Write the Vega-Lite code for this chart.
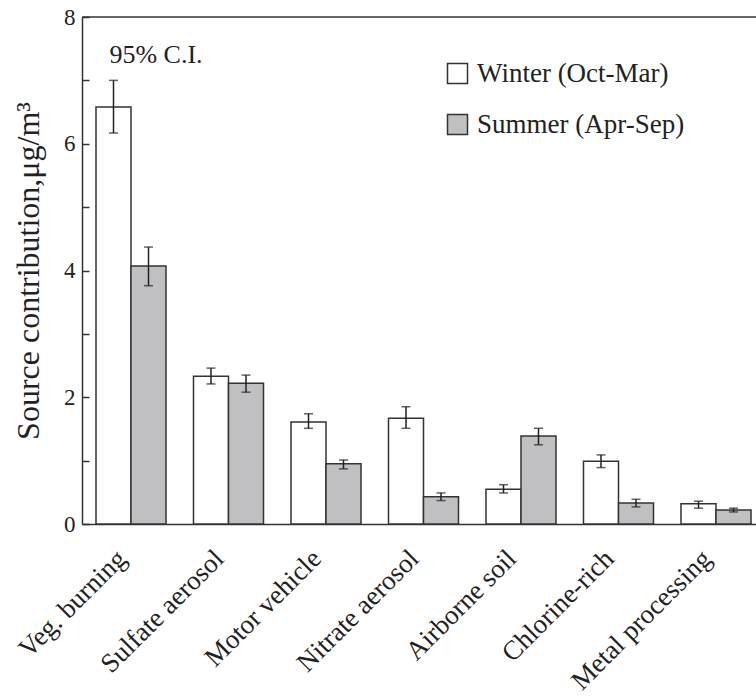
{
  "$schema": "https://vega.github.io/schema/vega-lite/v6.json",
  "width": 674,
  "height": 507,
  "autosize": {"type": "none"},
  "padding": {"left": 82, "top": 17, "right": 0, "bottom": 174},
  "background": "white",
  "config": {
    "view": {"stroke": null},
    "font": "Liberation Serif",
    "axis": {"labelFont": "Liberation Serif", "titleFont": "Liberation Serif", "labelColor": "#222", "titleColor": "#222", "domainColor": "#333", "domainWidth": 1.5, "tickColor": "#333", "tickWidth": 1.5, "grid": false},
    "legend": {"labelFont": "Liberation Serif"}
  },
  "data": {
    "values": [
      {"source": "Veg. burning", "season": "Winter (Oct-Mar)", "value": 6.58, "lo": 6.17, "hi": 7.0},
      {"source": "Veg. burning", "season": "Summer (Apr-Sep)", "value": 4.07, "lo": 3.76, "hi": 4.37},
      {"source": "Sulfate aerosol", "season": "Winter (Oct-Mar)", "value": 2.33, "lo": 2.21, "hi": 2.46},
      {"source": "Sulfate aerosol", "season": "Summer (Apr-Sep)", "value": 2.22, "lo": 2.08, "hi": 2.35},
      {"source": "Motor vehicle", "season": "Winter (Oct-Mar)", "value": 1.61, "lo": 1.51, "hi": 1.74},
      {"source": "Motor vehicle", "season": "Summer (Apr-Sep)", "value": 0.95, "lo": 0.87, "hi": 1.01},
      {"source": "Nitrate aerosol", "season": "Winter (Oct-Mar)", "value": 1.67, "lo": 1.51, "hi": 1.85},
      {"source": "Nitrate aerosol", "season": "Summer (Apr-Sep)", "value": 0.43, "lo": 0.37, "hi": 0.49},
      {"source": "Airborne soil", "season": "Winter (Oct-Mar)", "value": 0.55, "lo": 0.49, "hi": 0.62},
      {"source": "Airborne soil", "season": "Summer (Apr-Sep)", "value": 1.39, "lo": 1.25, "hi": 1.51},
      {"source": "Chlorine-rich", "season": "Winter (Oct-Mar)", "value": 0.99, "lo": 0.89, "hi": 1.09},
      {"source": "Chlorine-rich", "season": "Summer (Apr-Sep)", "value": 0.33, "lo": 0.27, "hi": 0.39},
      {"source": "Metal processing", "season": "Winter (Oct-Mar)", "value": 0.32, "lo": 0.25, "hi": 0.36},
      {"source": "Metal processing", "season": "Summer (Apr-Sep)", "value": 0.22, "lo": 0.19, "hi": 0.25}
    ]
  },
  "encoding": {
    "x": {
      "field": "source", "type": "nominal", "sort": null,
      "scale": {"paddingInner": 0.282, "paddingOuter": 0.0974, "align": 0.737},
      "axis": {"title": null, "ticks": false, "labelAngle": -45, "labelFontSize": 27, "labelPadding": 21, "labelOffset": -18, "labelLimit": 300}
    },
    "xOffset": {"field": "season", "type": "nominal", "sort": ["Winter (Oct-Mar)", "Summer (Apr-Sep)"], "scale": {"paddingInner": 0, "paddingOuter": 0}}
  },
  "layer": [
    {
      "mark": {"type": "bar", "stroke": "#333", "strokeWidth": 1.5},
      "encoding": {
        "y": {
          "field": "value", "type": "quantitative",
          "scale": {"domain": [0, 8], "nice": false},
          "axis": {
            "title": "Source contribution,μg/m³", "titleFontSize": 32, "titleFontWeight": "normal", "titlePadding": 18,
            "values": [0, 1, 2, 3, 4, 5, 6, 7, 8],
            "format": "d",
            "labelExpr": "datum.value % 2 == 0 ? datum.label : ''",
            "labelFontSize": 23, "tickSize": -7, "labelPadding": 14
          }
        },
        "fill": {
          "field": "season", "type": "nominal", "sort": ["Winter (Oct-Mar)", "Summer (Apr-Sep)"],
          "scale": {"range": ["#ffffff", "#c0c0c2"]},
          "legend": {
            "title": null, "orient": "none", "legendX": 362, "legendY": 43,
            "symbolType": "square", "symbolSize": 400, "symbolStrokeColor": "#333", "symbolStrokeWidth": 1.5,
            "labelFontSize": 27, "labelColor": "#222", "labelOffset": 6, "rowPadding": 23, "labelLimit": 400
          }
        }
      }
    },
    {
      "mark": {"type": "rule", "color": "#222", "strokeWidth": 1.5},
      "encoding": {
        "y": {"field": "lo", "type": "quantitative"},
        "y2": {"field": "hi"}
      }
    },
    {
      "mark": {"type": "tick", "orient": "horizontal", "color": "#222", "size": 9, "thickness": 1.5},
      "encoding": {"y": {"field": "lo", "type": "quantitative"}}
    },
    {
      "mark": {"type": "tick", "orient": "horizontal", "color": "#222", "size": 9, "thickness": 1.5},
      "encoding": {"y": {"field": "hi", "type": "quantitative"}}
    },
    {
      "data": {"values": [{}]},
      "mark": {"type": "rule", "color": "#333", "strokeWidth": 1.5},
      "encoding": {"y": {"datum": 8}, "x": {"value": 0}, "x2": {"value": 674}, "xOffset": null}
    },
    {
      "data": {"values": [{}]},
      "mark": {"type": "text", "fontSize": 26, "color": "#222", "dx": 25, "baseline": "middle"},
      "encoding": {"x": {"datum": "Veg. burning"}, "y": {"datum": 7.4}, "text": {"value": "95% C.I."}, "xOffset": null}
    }
  ]
}
